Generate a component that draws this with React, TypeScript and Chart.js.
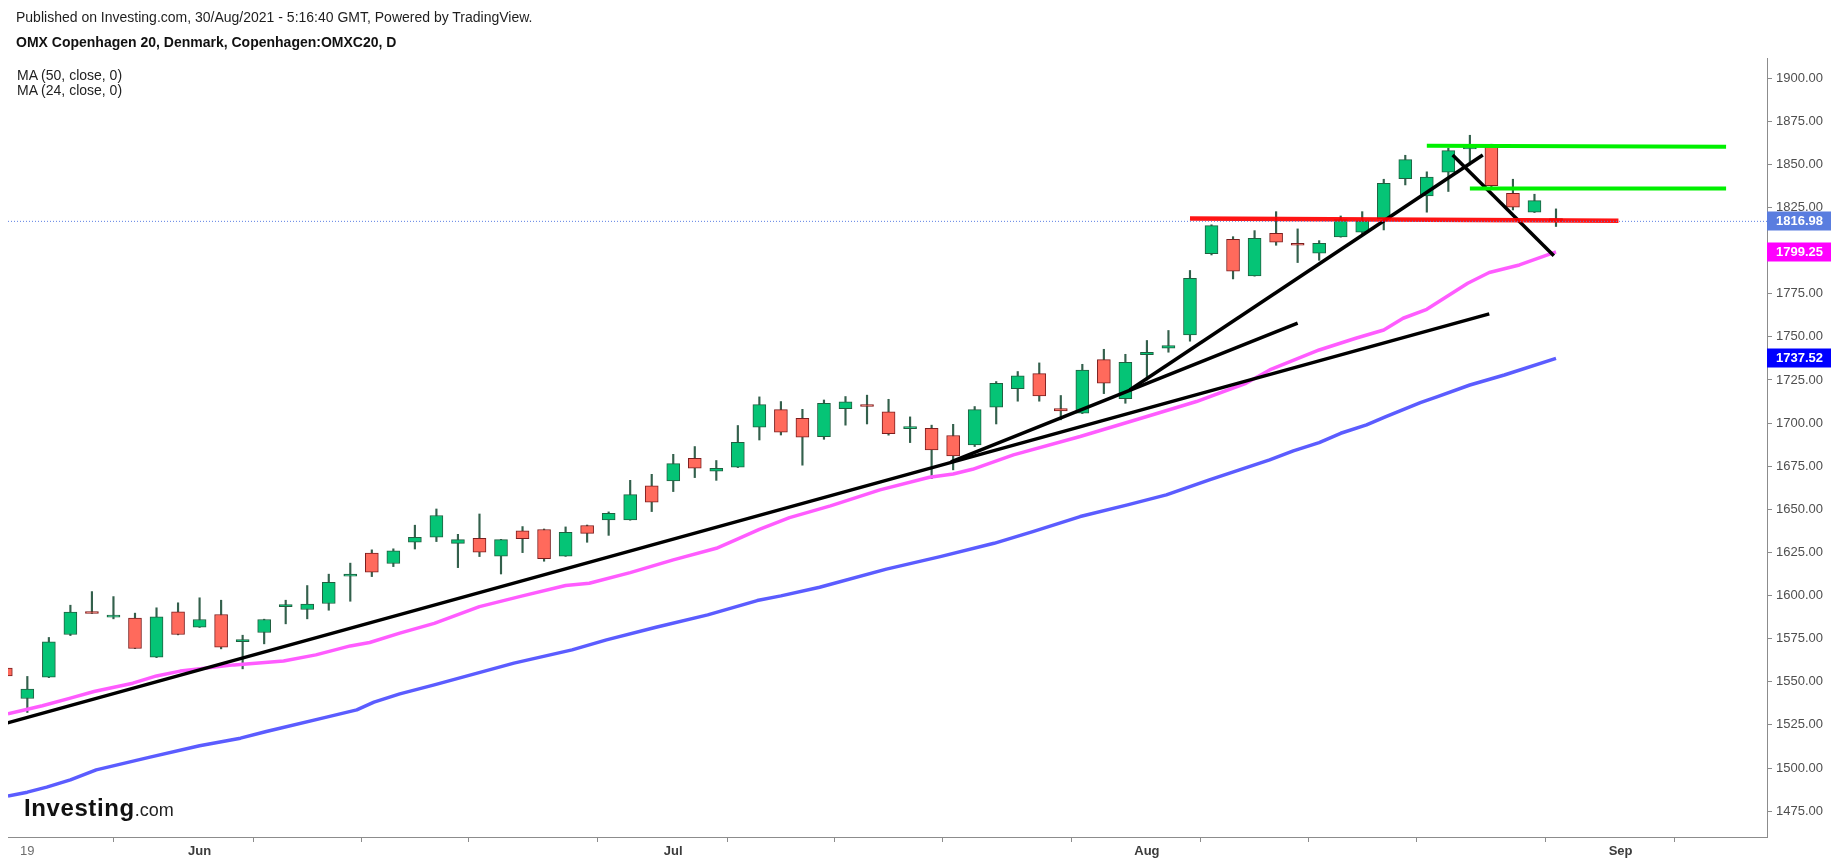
import React, { useEffect, useRef } from "react";
import { Chart, registerables } from "chart.js";

Chart.register(...registerables);

const FONT = '"Liberation Sans", Arial, Helvetica, sans-serif';

// ---- trading days (index 0 = 18 May 2021) ----
const dates = [
  "2021-05-18", "2021-05-19", "2021-05-20", "2021-05-21", "2021-05-25", "2021-05-26", "2021-05-27", "2021-05-28", "2021-05-31",
  "2021-06-01", "2021-06-02", "2021-06-03", "2021-06-04", "2021-06-07", "2021-06-08", "2021-06-09", "2021-06-10", "2021-06-11",
  "2021-06-14", "2021-06-15", "2021-06-16", "2021-06-17", "2021-06-18", "2021-06-21", "2021-06-22", "2021-06-23", "2021-06-24",
  "2021-06-25", "2021-06-28", "2021-06-29", "2021-06-30", "2021-07-01", "2021-07-02", "2021-07-05", "2021-07-06", "2021-07-07",
  "2021-07-08", "2021-07-09", "2021-07-12", "2021-07-13", "2021-07-14", "2021-07-15", "2021-07-16", "2021-07-19", "2021-07-20",
  "2021-07-21", "2021-07-22", "2021-07-23", "2021-07-26", "2021-07-27", "2021-07-28", "2021-07-29", "2021-07-30", "2021-08-02",
  "2021-08-03", "2021-08-04", "2021-08-05", "2021-08-06", "2021-08-09", "2021-08-10", "2021-08-11", "2021-08-12", "2021-08-13",
  "2021-08-16", "2021-08-17", "2021-08-18", "2021-08-19", "2021-08-20", "2021-08-23", "2021-08-24", "2021-08-25", "2021-08-26",
  "2021-08-27",
];

const opens = [
  1557.9, 1540.3, 1552.7, 1577.4, 1590.6, 1587.5, 1586.9, 1564.3, 1590.6,
  1581.7, 1589.0, 1573.2, 1578.6, 1593.5, 1591.9, 1595.4, 1611.2, 1624.6,
  1618.6, 1630.9, 1633.8, 1630.3, 1633.2, 1622.9, 1637.5, 1638.3, 1622.9,
  1640.6, 1643.9, 1643.9, 1663.6, 1666.5, 1679.6, 1672.1, 1674.4, 1697.6,
  1707.8, 1702.8, 1692.2, 1708.4, 1710.4, 1706.5, 1696.8, 1697.0, 1692.8,
  1687.4, 1709.2, 1720.0, 1728.7, 1708.4, 1705.7, 1736.8, 1714.2, 1739.7,
  1743.4, 1751.1, 1798.3, 1806.6, 1785.4, 1810.1, 1803.7, 1798.5, 1808.0,
  1810.7, 1818.6, 1841.8, 1831.7, 1845.5, 1859.0, 1860.2, 1833.3, 1822.3,
  1818.6,
];
const highs = [
  1559.5, 1553.1, 1575.7, 1594.4, 1602.3, 1599.4, 1589.8, 1592.9, 1595.8,
  1598.7, 1597.3, 1577.0, 1586.3, 1597.3, 1605.8, 1612.4, 1618.8, 1626.5,
  1627.1, 1640.8, 1650.2, 1635.5, 1647.3, 1632.6, 1640.0, 1638.6, 1639.8,
  1640.9, 1648.5, 1666.8, 1670.3, 1681.9, 1686.4, 1678.3, 1698.6, 1715.2,
  1712.5, 1708.0, 1713.4, 1715.4, 1716.2, 1713.8, 1703.6, 1698.8, 1699.3,
  1709.6, 1724.1, 1729.9, 1734.9, 1716.0, 1734.1, 1742.8, 1739.9, 1747.9,
  1753.7, 1788.5, 1815.0, 1808.1, 1811.6, 1822.6, 1812.6, 1805.8, 1820.1,
  1822.6, 1841.4, 1855.3, 1845.7, 1859.4, 1866.9, 1861.7, 1841.4, 1832.7,
  1824.2,
];
const lows = [
  1552.0, 1532.2, 1552.4, 1576.8, 1589.6, 1586.5, 1569.2, 1564.0, 1577.2,
  1581.5, 1569.1, 1557.5, 1572.0, 1583.6, 1586.5, 1591.5, 1596.7, 1611.0,
  1616.8, 1627.0, 1631.3, 1616.2, 1622.6, 1612.5, 1624.9, 1619.9, 1622.7,
  1630.9, 1634.9, 1643.7, 1648.7, 1660.3, 1668.4, 1666.8, 1674.2, 1690.2,
  1693.1, 1675.6, 1690.6, 1698.8, 1699.5, 1693.0, 1688.7, 1667.8, 1672.9,
  1686.4, 1699.5, 1712.7, 1712.7, 1701.9, 1705.5, 1717.1, 1711.5, 1725.0,
  1741.1, 1747.5, 1797.5, 1783.6, 1785.2, 1803.1, 1793.1, 1794.4, 1807.8,
  1809.5, 1812.0, 1838.1, 1822.3, 1834.3, 1849.7, 1836.0, 1823.6, 1822.1,
  1814.0,
];
const closes = [
  1553.4, 1545.7, 1573.2, 1590.4, 1589.6, 1588.4, 1569.3, 1587.7, 1577.4,
  1586.1, 1570.1, 1574.5, 1586.1, 1594.8, 1595.0, 1607.7, 1612.4, 1613.6,
  1625.9, 1633.8, 1646.4, 1632.4, 1625.1, 1632.4, 1633.0, 1621.4, 1636.7,
  1636.1, 1647.7, 1658.5, 1654.1, 1676.5, 1673.8, 1673.8, 1688.9, 1710.7,
  1694.7, 1691.8, 1711.5, 1712.3, 1709.6, 1693.9, 1697.0, 1684.5, 1681.0,
  1707.8, 1723.1, 1727.4, 1715.8, 1707.1, 1730.8, 1723.1, 1735.3, 1741.1,
  1745.0, 1784.0, 1814.5, 1788.1, 1807.2, 1804.9, 1803.1, 1804.3, 1818.0,
  1817.3, 1839.1, 1852.8, 1842.6, 1858.0, 1859.8, 1837.6, 1825.2, 1829.0,
  1816.98,
];

// ---- moving averages (at bar positions) ----
const ma50Index = [
  0.1, 1.0, 1.9, 3.0, 4.2, 6.7, 9.0, 10.9, 12.1, 14.9, 16.3, 17.1, 18.3, 19.9, 23.6, 26.3,
  27.9, 30.2, 32.6, 34.9, 36.0, 37.8, 40.9, 43.4, 45.9, 47.7, 49.9, 52.1, 53.9, 55.9, 57.3,
  58.7, 59.8, 61.0, 62.0, 63.2, 64.1, 65.7, 66.5, 68.0, 69.6, 72.0,
];
const ma50Values = [
  1483.8, 1486.0, 1488.9, 1493.1, 1498.9, 1506.3, 1512.9, 1517.3, 1521.2, 1529.5, 1533.7, 1538.2, 1543.0, 1548.2, 1560.8, 1568.5,
  1574.3, 1581.6, 1588.8, 1597.1, 1599.8, 1604.8, 1615.3, 1622.6, 1630.3, 1637.1, 1645.8, 1652.6, 1658.4, 1667.1, 1672.9,
  1678.7, 1683.9, 1688.7, 1694.1, 1699.0, 1703.8, 1711.9, 1715.4, 1722.1, 1727.9, 1737.52,
];
const ma24Index = [
  0.1, 1.7, 3.0, 4.1, 5.9, 7.0, 8.1, 10.6, 12.9, 14.4, 16.0, 16.9, 18.3, 19.9, 22.0, 24.0,
  26.0, 27.1, 29.0, 31.0, 33.0, 33.9, 35.0, 36.4, 38.3, 40.6, 42.9, 44.0, 44.9, 46.8, 49.9,
  53.0, 55.3, 57.6, 58.7, 61.0, 62.7, 64.0, 64.9, 66.0, 67.9, 68.9, 70.3, 72.0,
];
const ma24Values = [
  1531.4, 1536.1, 1540.5, 1544.4, 1549.2, 1553.4, 1556.2, 1559.8, 1562.1, 1565.6, 1570.8, 1572.8, 1578.2, 1583.9, 1593.6, 1599.8,
  1605.8, 1607.1, 1613.3, 1620.7, 1627.4, 1632.3, 1638.4, 1645.2, 1652.0, 1661.3, 1668.6, 1670.5, 1673.2, 1681.6, 1692.2,
  1703.8, 1712.5, 1723.1, 1730.8, 1742.4, 1749.2, 1754.0, 1760.8, 1766.0, 1781.1, 1787.3, 1791.7, 1799.25,
];

// ---- drawn annotations (bar index, price) ----
const trendLong = [[0, 1525.9], [68.9, 1763.3]];
const trendMedium = [[43.9, 1677.5], [60.0, 1757.9]];
const trendSteep = [[52.2, 1719.2], [68.6, 1855.5]];
const trendDown = [[67.2, 1855.5], [71.9, 1797.0]];
const redLevel = [[55.0, 1818.6], [74.9, 1817.4]];
const greenTop = [[66.0, 1860.8], [79.9, 1860.2]];
const greenMid = [[68.0, 1836.0], [79.9, 1836.0]];

// ---- axes ----
const yTicks = [1475, 1500, 1525, 1550, 1575, 1600, 1625, 1650, 1675, 1700, 1725, 1750, 1775, 1800, 1825, 1850, 1875, 1900];
const xTickIndex = [1, 9, 14, 19, 24, 31, 36, 41, 46, 53, 58, 63, 68, 75, 80];
const xTickNames = ["19", "Jun", "", "", "", "Jul", "", "", "", "Aug", "", "", "", "Sep", ""];
const X_MIN = 0.102;
const X_MAX = 81.8;
const Y_MIN = 1460.0;
const Y_MAX = 1911.7;

const UP = "#05c476";
const DOWN = "#ff6a5c";
const UP_BORDER = "#215f40";
const DOWN_BORDER = "#7b1e1e";
const WICK = "#33604c";

const lastPrice = closes[closes.length - 1];
const ma24Last = ma24Values[ma24Values.length - 1];
const ma50Last = ma50Values[ma50Values.length - 1];
const priceBoxes = [
  { value: lastPrice, color: "#5a7ddf" },
  { value: ma24Last, color: "#ff00ff" },
  { value: ma50Last, color: "#0000ff" },
];

const pts = (arr: number[][]) => arr.map(([x, y]) => ({ x, y }));

const lineDs = (data: any[], color: string, width: number, order: number, extra: any = {}) => ({
  type: "line" as const,
  data,
  borderColor: color,
  backgroundColor: color,
  borderWidth: width,
  pointRadius: 0,
  pointHoverRadius: 0,
  tension: 0,
  fill: false,
  clip: 0,
  order,
  borderJoinStyle: "round" as const,
  ...extra,
});

const priceBoxPlugin = {
  id: "priceBoxes",
  afterDraw(chart: any) {
    const { ctx, chartArea, scales } = chart;
    const ys = scales.y;
    ctx.save();
    priceBoxes.forEach((b) => {
      const py = Math.round(ys.getPixelForValue(b.value));
      ctx.fillStyle = b.color;
      ctx.fillRect(chartArea.right, py - 9.5, 64, 19);
      ctx.fillStyle = "#ffffff";
      ctx.font = `bold 13px ${FONT}`;
      ctx.textBaseline = "middle";
      ctx.textAlign = "left";
      ctx.fillText(b.value.toFixed(2), chartArea.right + 9, py + 0.5);
    });
    ctx.restore();
  },
};

export default function App() {
  const ref = useRef<HTMLCanvasElement>(null);

  useEffect(() => {
    if (!ref.current) return;
    Chart.defaults.font.family = FONT;
    const isUp = (i: number) => closes[i] >= opens[i];

    const chart = new Chart(ref.current, {
      type: "bar",
      data: {
        datasets: [
          {
            type: "bar",
            data: dates.map((_, i) => ({ x: i, y: [lows[i], highs[i]] })) as any,
            backgroundColor: WICK,
            borderWidth: 0,
            barThickness: 1.5,
            grouped: false,
            clip: 0,
            order: 6,
          } as any,
          {
            type: "bar",
            data: dates.map((_, i) => ({ x: i, y: [opens[i], closes[i]] })) as any,
            backgroundColor: (c: any) => (isUp(c.dataIndex) ? UP : DOWN),
            borderColor: (c: any) => (isUp(c.dataIndex) ? UP_BORDER : DOWN_BORDER),
            borderWidth: 1,
            borderSkipped: false,
            minBarLength: 2,
            barThickness: 13,
            grouped: false,
            clip: 0,
            order: 5,
          } as any,
          lineDs(ma50Index.map((x, i) => ({ x, y: ma50Values[i] })), "#5b5cff", 3.5, 4),
          lineDs(ma24Index.map((x, i) => ({ x, y: ma24Values[i] })), "#ff5cff", 3.5, 4),
          lineDs(pts(trendLong), "#000000", 3.5, 3),
          lineDs(pts(trendMedium), "#000000", 3.5, 3),
          lineDs(pts(trendSteep), "#000000", 3.5, 3),
          lineDs(pts(trendDown), "#000000", 3.5, 3),
          lineDs(pts(redLevel), "rgba(255,0,0,0.92)", 4.5, 2),
          lineDs(pts(greenTop), "#00f000", 4, 2),
          lineDs(pts(greenMid), "#00f000", 4, 2),
          lineDs(pts([[X_MIN, lastPrice], [X_MAX, lastPrice]]), "#5b7fe3", 1, 1, { borderDash: [1, 2] }),
        ] as any,
      },
      options: {
        responsive: false,
        animation: false,
        events: [],
        layout: { padding: { left: 8, top: 58, right: 0, bottom: 0 } },
        plugins: { legend: { display: false }, tooltip: { enabled: false }, title: { display: false } },
        scales: {
          x: {
            type: "linear",
            min: X_MIN,
            max: X_MAX,
            offset: false,
            position: "bottom",
            border: { display: true, color: "#8c8c8c", width: 1 },
            grid: { display: true, drawOnChartArea: false, drawTicks: true, tickLength: 5, color: "#8c8c8c" },
            afterBuildTicks: (scale: any) => {
              scale.ticks = xTickIndex.map((v) => ({ value: v }));
            },
            afterFit: (scale: any) => {
              scale.height = 29;
            },
            ticks: {
              autoSkip: false,
              maxRotation: 0,
              minRotation: 0,
              padding: 2,
              font: (c: any) => {
                const k = xTickIndex.indexOf(c.tick ? c.tick.value : -1);
                const name = k >= 0 ? xTickNames[k] : "";
                return { size: 13, weight: name && name !== "19" ? "bold" : "normal", family: FONT };
              },
              color: (c: any) => {
                const k = xTickIndex.indexOf(c.tick ? c.tick.value : -1);
                const name = k >= 0 ? xTickNames[k] : "";
                return name === "19" ? "#6e6e6e" : "#3c3c3c";
              },
              callback: (v: any) => {
                const k = xTickIndex.indexOf(Number(v));
                return k >= 0 ? xTickNames[k] : "";
              },
            },
          },
          y: {
            type: "linear",
            position: "right",
            min: Y_MIN,
            max: Y_MAX,
            border: { display: true, color: "#8c8c8c", width: 1 },
            grid: { display: true, drawOnChartArea: false, drawTicks: true, tickLength: 5, color: "#8c8c8c" },
            afterBuildTicks: (scale: any) => {
              scale.ticks = yTicks.map((v) => ({ value: v }));
            },
            afterFit: (scale: any) => {
              scale.width = 70;
            },
            ticks: {
              autoSkip: false,
              padding: 4,
              color: "#4f4f4f",
              font: { size: 13, family: FONT },
              callback: (v: any) => Number(v).toFixed(2),
            },
          },
        },
      } as any,
      plugins: [priceBoxPlugin],
    });
    return () => chart.destroy();
  }, []);

  const base: React.CSSProperties = {
    position: "absolute",
    whiteSpace: "nowrap",
    fontFamily: FONT,
    lineHeight: "18px",
  };

  return (
    <div style={{ position: "fixed", left: 0, top: 0, width: 1837, height: 866, background: "#ffffff", overflow: "hidden" }}>
      <canvas ref={ref} width={1837} height={866} style={{ position: "absolute", left: 0, top: 0, display: "block" }} />
      <div style={{ ...base, left: 16, top: 8, fontSize: 14, color: "#1e1e1e" }}>
        Published on Investing.com, 30/Aug/2021 - 5:16:40 GMT, Powered by TradingView.
      </div>
      <div style={{ ...base, left: 16, top: 33, fontSize: 14, fontWeight: "bold", color: "#111111" }}>
        OMX Copenhagen 20, Denmark, Copenhagen:OMXC20, D
      </div>
      <div style={{ ...base, left: 17, top: 66, fontSize: 14, color: "#222222" }}>MA (50, close, 0)</div>
      <div style={{ ...base, left: 17, top: 81, fontSize: 14, color: "#222222" }}>MA (24, close, 0)</div>
      <div style={{ position: "absolute", left: 24, top: 796, whiteSpace: "nowrap", fontFamily: FONT, fontSize: 24, lineHeight: "24px" }}>
        <span style={{ fontWeight: "bold", color: "#111111", letterSpacing: "0.6px" }}>Investing</span>
        <span style={{ fontSize: 18, color: "#222222" }}>.com</span>
      </div>
    </div>
  );
}
